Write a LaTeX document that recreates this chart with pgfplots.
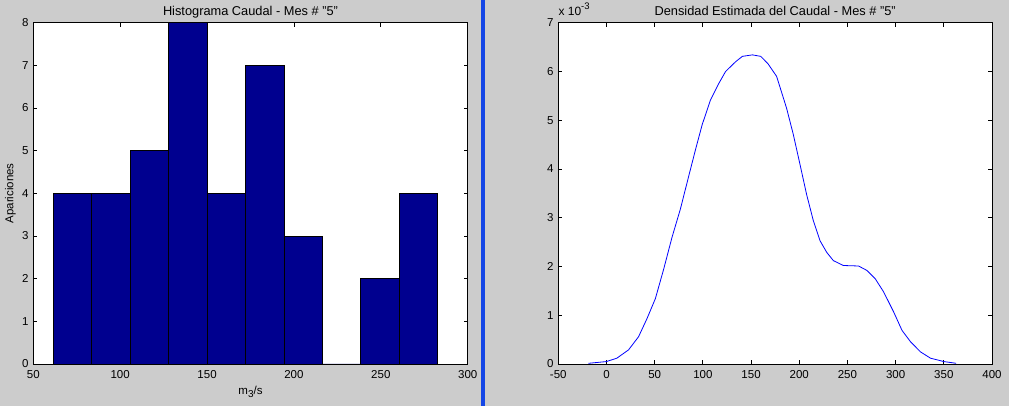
\documentclass[border=0pt]{standalone}
\usepackage{fontspec}
\setmainfont{Liberation Sans}
\usepackage{pgfplots}
\pgfplotsset{compat=1.18}
\newcommand\f{\fontsize{11.5}{13.8}\selectfont}
\newcommand\ft{\fontsize{12.8}{15}\selectfont}
\definecolor{mgray}{RGB}{204,204,204}
\definecolor{mnavy}{RGB}{0,0,143}
\definecolor{msep}{RGB}{20,70,230}
\pgfplotsset{
  mstyle/.style={
    scale only axis,
    anchor=south west,
    axis background/.style={fill=white},
    axis line style={black, line width=0.8pt},
    tick align=inside,
    xtick pos=both, ytick pos=both,
    major tick length=4pt,
    every tick/.style={black, line width=0.8pt},
    /pgf/number format/assume math mode=true,
    tick label style={font=\f},
    xticklabel style={inner sep=0pt, yshift=-6.5pt},
    yticklabel style={inner sep=0pt, xshift=-4.5pt},
    label style={font=\f},
    title style={font=\ft, at={(axis description cs:0.5,1)}, anchor=base, inner sep=0pt, yshift=1.5pt},
  }
}
\begin{document}
\begin{tikzpicture}[x=1pt,y=1pt]
\fill[mgray] (0,0) rectangle (1009,406);
\fill[msep] (481.3,0) rectangle (484.7,406);
\begin{axis}[mstyle,
  at={(33.3pt,42pt)}, width=434.4pt, height=341.3pt,
  xmin=50, xmax=300, ymin=0, ymax=8,
  xtick={50,100,...,300}, ytick={0,1,...,8},
  title={Histograma Caudal - Mes \# "5"},
  xlabel={m\raisebox{-0.4ex}{\fontsize{10}{11}\selectfont 3}/s},
  xlabel style={at={(axis description cs:0.5,0)}, anchor=base, inner sep=0pt, yshift=-31pt},
  ylabel={Apariciones},
  ylabel style={at={(axis description cs:-0.053,0.5)}, anchor=center, rotate=0},
]
\addplot[ybar interval, fill=mnavy, draw=black, line width=0.6pt] coordinates {
(61.5,4)(83.6,4)(105.7,5)(127.8,8)(149.9,4)(172.1,7)(194.2,3)(216.3,0)(238.4,2)(260.5,4)(282.7,4)};
\end{axis}
\begin{axis}[mstyle, name=R,
  at={(558.3pt,42pt)}, width=433.7pt, height=341.3pt,
  xmin=-50, xmax=400, ymin=0, ymax=7,
  xtick={-50,0,...,400}, ytick={0,1,...,7},
  title={Densidad Estimada del Caudal - Mes \# "5"},
]
\addplot[blue, line width=0.8pt] coordinates {
(-18.8,0.014)(0,0.05)(10.8,0.12)(22.9,0.29)(33.3,0.56)(42,0.93)(50.7,1.34)(59.4,1.95)(68,2.6)(76.7,3.18)(85.4,3.86)(92.4,4.4)(99.3,4.91)(108,5.42)(116.7,5.76)(123.6,6.0)(134,6.2)(141,6.31)(151.4,6.34)(160,6.31)(167.5,6.16)(176.5,5.90)(186.8,5.25)(193.8,4.71)(200.7,4.10)(207.6,3.48)(214.6,2.94)(221.5,2.53)(228.5,2.29)(235.4,2.12)(245.8,2.02)(261.5,2.01)(270.1,1.92)(278.8,1.75)(287.5,1.48)(297.9,1.07)(306.6,0.69)(315.3,0.46)(325.7,0.25)(336.1,0.12)(350,0.05)(362.8,0.014)};
\end{axis}
\node[font=\fontsize{12}{14}\selectfont, anchor=base west, inner sep=0pt] at ([yshift=7pt]R.north west) {x 10\raisebox{0.9ex}{\fontsize{9.5}{10}\selectfont -3}};
\pgfresetboundingbox
\useasboundingbox (0,0) rectangle (1009,406);
\end{tikzpicture}
\end{document}
